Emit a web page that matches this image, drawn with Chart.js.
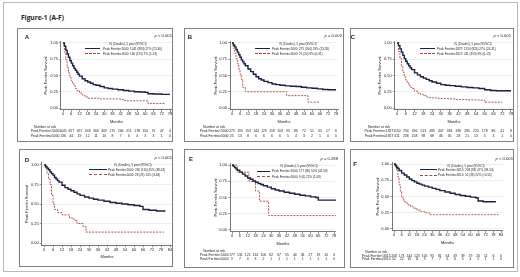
<!DOCTYPE html>
<html>
<head>
<meta charset="utf-8">
<title>Figure-1 (A-F)</title>
<script src="https://cdn.jsdelivr.net/npm/chart.js@4.4.1/dist/chart.umd.min.js"></script>
<style>
  html, body { margin: 0; padding: 0; background: #fff; }
  #fig { position: relative; width: 520px; height: 277px; overflow: hidden; font-family: "Liberation Sans", Arial, sans-serif; color: #222; }
  #fig canvas { position: absolute; }
  .frame { position: absolute; box-sizing: border-box; border: 1px solid #b9b9b9; }
  .box { position: absolute; box-sizing: border-box; border: 1px solid #808080; pointer-events: none; }
  .txt { position: absolute; white-space: nowrap; line-height: 1; }
  .swatch { position: absolute; height: 0; }
</style>
</head>
<body>
<div id="fig">
  <div class="frame" style="left:3px;top:2px;width:515px;height:270px"></div>
  <div class="txt" style="left:21px;top:14.5px;font-size:6.6px;font-weight:bold;font-family:'Open Sans'">Figure-1 (A-F)</div>
</div>
<script>
// tick values
const months78 = [0, 6, 12, 18, 24, 30, 36, 42, 48, 54, 60, 66, 72, 78];
const months84 = [0, 6, 12, 18, 24, 30, 36, 42, 48, 54, 60, 66, 72, 78, 84];
const survTicks = [0, 0.25, 0.5, 0.75, 1];

const pValues = ['< 0.001', '= 0.002', '< 0.001', '< 0.001', '= 0.288', '< 0.001'];
const legendTitle = 'N, (Deaths), 5 year (95%CI)';

// A: peak ferritin 5000
const aLowT = [0, 1, 2, 3, 4, 5, 6, 7, 8, 9, 10, 11, 12, 14, 16, 18, 20, 22, 24, 27, 30, 33, 36, 40, 44, 48, 52, 56, 60, 62, 66, 72, 78];
const aLowS = [1, 0.95, 0.89, 0.83, 0.78, 0.73, 0.69, 0.65, 0.61, 0.58, 0.55, 0.52, 0.49, 0.45, 0.42, 0.40, 0.38, 0.36, 0.35, 0.33, 0.31, 0.30, 0.29, 0.28, 0.27, 0.26, 0.25, 0.245, 0.24, 0.22, 0.215, 0.21, 0.21];
const aHighT = [0, 1, 2, 3, 4, 5, 6, 7, 8, 9, 10, 12, 14, 16, 18, 20, 27, 36, 42, 45, 58, 62, 74];
const aHighS = [1, 0.86, 0.74, 0.62, 0.54, 0.47, 0.42, 0.38, 0.34, 0.30, 0.27, 0.23, 0.20, 0.17, 0.15, 0.15, 0.14, 0.14, 0.13, 0.11, 0.11, 0.07, 0.07];
const aRiskLow = [1041, 657, 497, 403, 363, 309, 275, 246, 211, 178, 150, 91, 47, 4];
const aRiskHigh = [136, 44, 19, 12, 11, 10, 8, 7, 6, 4, 3, 3, 1, 0];
const legendA = ['Peak Ferritin<5000: 1041 (884) 27% (25-30)', 'Peak Ferritin\u22655000: 136 (125) 7% (2-13)'];

// B
const bLowT = [0, 1, 2, 3, 4, 5, 6, 7, 8, 9, 10, 12, 14, 16, 18, 20, 22, 24, 27, 30, 33, 36, 40, 44, 48, 52, 56, 60, 64, 68, 72, 78];
const bLowS = [1, 0.97, 0.94, 0.90, 0.86, 0.82, 0.78, 0.74, 0.71, 0.68, 0.65, 0.60, 0.56, 0.52, 0.48, 0.45, 0.43, 0.41, 0.39, 0.37, 0.36, 0.35, 0.34, 0.335, 0.33, 0.32, 0.31, 0.305, 0.295, 0.285, 0.28, 0.28];
const bHighT = [0, 1, 2, 3, 4, 5, 6, 7, 8, 10, 41, 57, 66];
const bHighS = [1, 0.92, 0.84, 0.76, 0.68, 0.60, 0.52, 0.44, 0.32, 0.25, 0.19, 0.09, 0.09];
const bRiskLow = [275, 190, 153, 144, 129, 118, 103, 95, 86, 72, 51, 35, 17, 6];
const bRiskHigh = [25, 13, 8, 6, 6, 6, 6, 5, 4, 3, 2, 1, 0, 0];
const legendB = ['Peak Ferritin<5000: 275 (204) 29% (23-35)', 'Peak Ferritin\u22655000: 25 (20) 9% (0-31)'];

// C: peak ferritin 1827
const cLowT = [0, 1, 2, 3, 4, 5, 6, 7, 8, 9, 10, 12, 14, 16, 18, 20, 22, 24, 27, 30, 33, 36, 40, 44, 48, 52, 56, 60, 64, 68, 72, 78];
const cLowS = [1, 0.96, 0.91, 0.86, 0.81, 0.76, 0.72, 0.68, 0.65, 0.62, 0.59, 0.54, 0.51, 0.48, 0.46, 0.44, 0.42, 0.40, 0.38, 0.36, 0.35, 0.345, 0.335, 0.325, 0.315, 0.31, 0.30, 0.28, 0.27, 0.265, 0.265, 0.265];
const cHighT = [0, 1, 2, 3, 4, 5, 6, 7, 8, 9, 10, 12, 14, 16, 18, 20, 22, 24, 27, 30, 36, 40, 48, 56, 60, 72];
const cHighS = [1, 0.87, 0.76, 0.64, 0.55, 0.48, 0.43, 0.39, 0.35, 0.32, 0.30, 0.26, 0.23, 0.21, 0.19, 0.17, 0.16, 0.155, 0.15, 0.145, 0.14, 0.13, 0.125, 0.12, 0.09, 0.09];
const cRiskLow = [1150, 734, 596, 513, 469, 407, 363, 336, 285, 220, 178, 86, 41, 8];
const cRiskHigh = [411, 238, 158, 98, 68, 46, 35, 28, 21, 13, 5, 3, 1, 0];
const legendC = ['Peak Ferritin<1827: 1150 (826) 27% (24-31)', 'Peak Ferritin\u22651827: 411 (359) 9% (6-13)'];

// D
const dLowT = [0, 1, 2, 3, 4, 5, 6, 7, 8, 9, 10, 12, 14, 16, 18, 20, 22, 24, 27, 30, 33, 36, 40, 44, 48, 52, 56, 60, 64, 66, 70, 75, 81];
const dLowS = [1, 0.98, 0.96, 0.94, 0.91, 0.89, 0.87, 0.84, 0.82, 0.80, 0.78, 0.74, 0.71, 0.69, 0.67, 0.65, 0.63, 0.61, 0.59, 0.575, 0.56, 0.55, 0.535, 0.52, 0.51, 0.50, 0.49, 0.48, 0.47, 0.43, 0.42, 0.41, 0.41];
const dHighT = [0, 1, 2, 3, 4, 5, 6, 7, 9, 12, 17, 20, 22, 26, 28, 80];
const dHighS = [1, 0.96, 0.89, 0.82, 0.75, 0.61, 0.50, 0.43, 0.39, 0.36, 0.32, 0.29, 0.25, 0.21, 0.14, 0.14];
const legendD = ['Peak Ferritin<5000: 230 (110) 45% (38-53)', 'Peak Ferritin\u22655000: 28 (23) 14% (3-34)'];

// E
const eLowT = [0, 1, 2, 3, 4, 6, 8, 10, 12, 14, 16, 18, 20, 22, 24, 27, 30, 33, 36, 40, 44, 48, 52, 56, 60, 64, 66, 70, 75, 80];
const eLowS = [1, 0.98, 0.96, 0.94, 0.92, 0.89, 0.86, 0.83, 0.80, 0.78, 0.755, 0.735, 0.715, 0.70, 0.68, 0.66, 0.635, 0.615, 0.60, 0.58, 0.565, 0.55, 0.535, 0.525, 0.51, 0.50, 0.46, 0.46, 0.46, 0.46];
const eHighT = [0, 4, 13, 18, 21, 28, 80];
const eHighS = [1, 0.889, 0.75, 0.60, 0.444, 0.222, 0.222];
const eRiskLow = [177, 131, 121, 114, 100, 82, 67, 55, 44, 36, 27, 19, 10, 4];
const eRiskHigh = [9, 7, 4, 3, 2, 1, 1, 1, 1, 1, 1, 1, 1, 0];
const legendE = ['Peak Ferritin<5000: 177 (80) 50% (42-58)', 'Peak Ferritin\u22655000: 9 (6) 22% (1-58)'];

// F: peak ferritin 3015
const fLowT = [0, 1, 2, 3, 4, 6, 8, 10, 12, 14, 16, 18, 20, 22, 24, 27, 30, 33, 36, 40, 44, 48, 52, 56, 60, 64, 66, 70, 75, 80];
const fLowS = [1, 0.98, 0.95, 0.93, 0.90, 0.86, 0.83, 0.80, 0.77, 0.745, 0.725, 0.705, 0.69, 0.675, 0.66, 0.645, 0.625, 0.61, 0.59, 0.57, 0.55, 0.53, 0.515, 0.505, 0.49, 0.48, 0.43, 0.42, 0.42, 0.42];
const fHighT = [0, 1, 2, 3, 4, 5, 6, 7, 8, 9, 11, 13, 15, 18, 21, 24, 28, 82];
const fHighS = [1, 0.96, 0.90, 0.80, 0.68, 0.58, 0.50, 0.45, 0.42, 0.40, 0.37, 0.35, 0.32, 0.29, 0.27, 0.25, 0.22, 0.22];
const fRiskLow = [208, 173, 144, 123, 105, 95, 81, 64, 49, 39, 29, 20, 11, 6, 0];
const fRiskHigh = [52, 22, 16, 11, 9, 7, 7, 6, 6, 5, 4, 2, 1, 1, 0];
const legendF = ['Peak Ferritin<3015: 208 (93) 47% (39-54)', 'Peak Ferritin\u22653015: 52 (39) 22% (<0.55)'];

const riskLabels5000 = ['Peak Ferritin<5000', 'Peak Ferritin\u22655000'];
const riskLabels1827 = ['Peak Ferritin<1827', 'Peak Ferritin\u22651827'];
const riskLabels3015 = ['Peak Ferritin<3015', 'Peak Ferritin\u22653015'];

const NAVY = '#1d2140';
const RED = '#a9463f';
const FONT = '"Liberation Sans", Arial, sans-serif';
const YW = 17;   // width of the y axis block
const XH = 14;   // height of the x axis block

const panels = [
  { letter: 'A', p: pValues[0], box: [17, 28, 156, 114], x0: 63, xLast: 170, y1: 43, y0: 108, months: months78,
    low: [aLowT, aLowS], high: [aHighT, aHighS], legend: legendA,
    risk: { rows: [aRiskLow, aRiskHigh], labels: riskLabels5000, y: [127, 131.5, 136] },
    letterPos: [27, 37], pPos: [172, 36], legTitle: [128, 44], legRows: [48.5, 53.5], swatch: [85, 100], legX: 103 },
  { letter: 'B', p: pValues[1], box: [184, 28, 160, 114], x0: 232, xLast: 336, y1: 43, y0: 108, months: months78,
    low: [bLowT, bLowS], high: [bHighT, bHighS], legend: legendB,
    risk: { rows: [bRiskLow, bRiskHigh], labels: riskLabels5000, y: [127, 131.5, 136] },
    letterPos: [190, 37], pPos: [342, 36], legTitle: [298, 43.5], legRows: [48.5, 53.5], swatch: [255, 270], legX: 272 },
  { letter: 'C', p: pValues[2], box: [350, 28, 164, 114], x0: 397, xLast: 511, y1: 43, y0: 108, months: months78,
    low: [cLowT, cLowS], high: [cHighT, cHighS], legend: legendC,
    risk: { rows: [cRiskLow, cRiskHigh], labels: riskLabels1827, y: [127, 131.5, 136] },
    letterPos: [353, 37], pPos: [511, 36], legTitle: [473, 43.5], legRows: [48.5, 53.5], swatch: [420, 435], legX: 437 },
  { letter: 'D', p: pValues[3], box: [19, 149, 154, 118], x0: 44, xLast: 170, y1: 165, y0: 243, months: months84,
    low: [dLowT, dLowS], high: [dHighT, dHighS], legend: legendD, risk: null,
    letterPos: [27, 160], pPos: [172, 158], legTitle: [133, 165], legRows: [169.5, 174.5], swatch: [89, 107], legX: 108 },
  { letter: 'E', p: pValues[4], box: [184, 149, 161, 119], x0: 232, xLast: 334, y1: 165, y0: 230, months: months78,
    low: [eLowT, eLowS], high: [eHighT, eHighS], legend: legendE,
    risk: { rows: [eRiskLow, eRiskHigh], labels: riskLabels5000, y: [251, 255, 259] },
    letterPos: [191, 159], pPos: [338, 159], legTitle: [299, 166], legRows: [171, 176.5], swatch: [257, 270], legX: 272 },
  { letter: 'F', p: pValues[5], box: [350, 149, 164, 119], x0: 394, xLast: 501, y1: 164, y0: 229, months: months84,
    low: [fLowT, fLowS], high: [fHighT, fHighS], legend: legendF,
    risk: { rows: [fRiskLow, fRiskHigh], labels: riskLabels3015, y: [252, 256, 259.5] },
    letterPos: [355, 164], pPos: [513, 159], legTitle: [466, 166], legRows: [169.5, 175], swatch: [420, 437], legX: 438 },
];

const fig = document.getElementById('fig');

function addText(html, x, y, size, align, extra) {
  const el = document.createElement('div');
  el.className = 'txt';
  el.innerHTML = html;
  el.style.left = x + 'px';
  el.style.top = y + 'px';
  el.style.fontSize = size + 'px';
  const tx = align === 'center' ? '-50%' : align === 'right' ? '-100%' : '0';
  el.style.transform = `translate(${tx}, -50%)`;
  if (extra) Object.assign(el.style, extra);
  fig.appendChild(el);
  return el;
}

function addSwatch(x1, x2, y, color, dashed, width) {
  const el = document.createElement('div');
  el.className = 'swatch';
  el.style.left = x1 + 'px';
  el.style.top = (y - width / 2) + 'px';
  el.style.width = (x2 - x1) + 'px';
  el.style.borderTop = `${width}px ${dashed ? 'dashed' : 'solid'} ${color}`;
  fig.appendChild(el);
}

const toXY = (t, s) => t.map((x, i) => ({ x, y: s[i] }));

const riskTable = {
  id: 'riskTable',
  afterDraw(chart, args, opts) {
    if (!opts.rows) return;
    const ctx = chart.ctx;
    const xs = chart.scales.x;
    ctx.save();
    ctx.font = `${opts.size}px ${FONT}`;
    ctx.fillStyle = '#222';
    ctx.textBaseline = 'middle';
    const labelRight = chart.chartArea.left - 1.5;
    const labelW = ctx.measureText(opts.labels[0]).width;
    ctx.textAlign = 'center';
    ctx.fillText('Number at risk', labelRight - labelW / 2, opts.y[0] - opts.top);
    opts.rows.forEach((row, r) => {
      const y = opts.y[r + 1] - opts.top;
      ctx.textAlign = 'right';
      ctx.fillText(opts.labels[r], labelRight, y);
      ctx.textAlign = 'center';
      row.forEach((n, i) => ctx.fillText(String(n), xs.getPixelForValue(opts.months[i]), y));
    });
    ctx.restore();
  }
};

panels.forEach(p => {
  const [bx, by, bw, bh] = p.box;
  const lastTick = p.months[p.months.length - 1];
  const ppm = (p.xLast - p.x0) / lastTick;
  const ppu = p.y0 - p.y1;
  const xmin = -1.5, xmax = lastTick + 1.5, ymin = -0.03, ymax = 1.03;
  const L = p.x0 + xmin * ppm, R = p.x0 + xmax * ppm;
  const T = p.y1 - (ymax - 1) * ppu, B = p.y0 - ymin * ppu;

  const canvas = document.createElement('canvas');
  canvas.width = bw;
  canvas.height = bh;
  canvas.style.left = bx + 'px';
  canvas.style.top = by + 'px';
  canvas.style.width = bw + 'px';
  canvas.style.height = bh + 'px';
  fig.appendChild(canvas);

  const border = document.createElement('div');
  border.className = 'box';
  Object.assign(border.style, { left: bx + 'px', top: by + 'px', width: bw + 'px', height: bh + 'px' });
  fig.appendChild(border);

  new Chart(canvas, {
    type: 'line',
    data: {
      datasets: [
        { label: p.legend[0], data: toXY(p.low[0], p.low[1]), borderColor: NAVY, borderWidth: 1.4, stepped: true, pointRadius: 0, fill: false },
        { label: p.legend[1], data: toXY(p.high[0], p.high[1]), borderColor: RED, borderWidth: 0.9, borderDash: [2, 1.2], stepped: true, pointRadius: 0, fill: false },
      ],
    },
    options: {
      responsive: false,
      animation: false,
      devicePixelRatio: 1,
      events: [],
      layout: { padding: { left: L - bx - YW, top: T - by, right: bx + bw - R, bottom: by + bh - B - XH } },
      plugins: {
        legend: { display: false },
        tooltip: { enabled: false },
        riskTable: p.risk ? { rows: p.risk.rows, labels: p.risk.labels, y: p.risk.y, top: by, months: p.months, size: 3.4 } : {},
      },
      scales: {
        x: {
          type: 'linear', min: xmin, max: xmax,
          afterBuildTicks: s => { s.ticks = p.months.map(v => ({ value: v })); },
          afterFit: s => { s.height = XH; },
          ticks: { font: { size: 4, family: FONT }, color: '#222', padding: 0, maxRotation: 0, autoSkip: false, callback: v => String(v) },
          grid: { drawOnChartArea: false, tickLength: 2, tickColor: '#555', lineWidth: 0.6 },
          border: { color: '#555', width: 0.8 },
          title: { display: true, text: 'Months', font: { size: 4, family: FONT }, color: '#222', padding: 0 },
        },
        y: {
          min: ymin, max: ymax,
          afterBuildTicks: s => { s.ticks = survTicks.map(v => ({ value: v })); },
          afterFit: s => { s.width = YW; },
          ticks: { font: { size: 4, family: FONT }, color: '#222', padding: 1, callback: v => v.toFixed(2) },
          grid: { color: '#e6e6e6', lineWidth: 0.6, tickLength: 2, tickColor: '#555' },
          border: { color: '#555', width: 0.8 },
          title: { display: true, text: 'Peak Ferritin Survival', font: { size: 4, family: FONT }, color: '#222', padding: 0 },
        },
      },
    },
    plugins: [riskTable],
  });

  // panel letter, p value and legend
  addText(p.letter, p.letterPos[0], p.letterPos[1], 6, 'center', { fontWeight: 'bold' });
  addText('<i>p</i> ' + p.p.replace('<', '&lt;'), p.pPos[0], p.pPos[1], 4.2, 'right');
  addText(legendTitle, p.legTitle[0], p.legTitle[1], 3, 'center');
  addSwatch(p.swatch[0], p.swatch[1], p.legRows[0], NAVY, false, 1);
  addSwatch(p.swatch[0], p.swatch[1], p.legRows[1], RED, true, 0.8);
  addText(p.legend[0], p.legX, p.legRows[0], 3, 'left');
  addText(p.legend[1], p.legX, p.legRows[1], 3, 'left');
});
</script>
</body>
</html>
